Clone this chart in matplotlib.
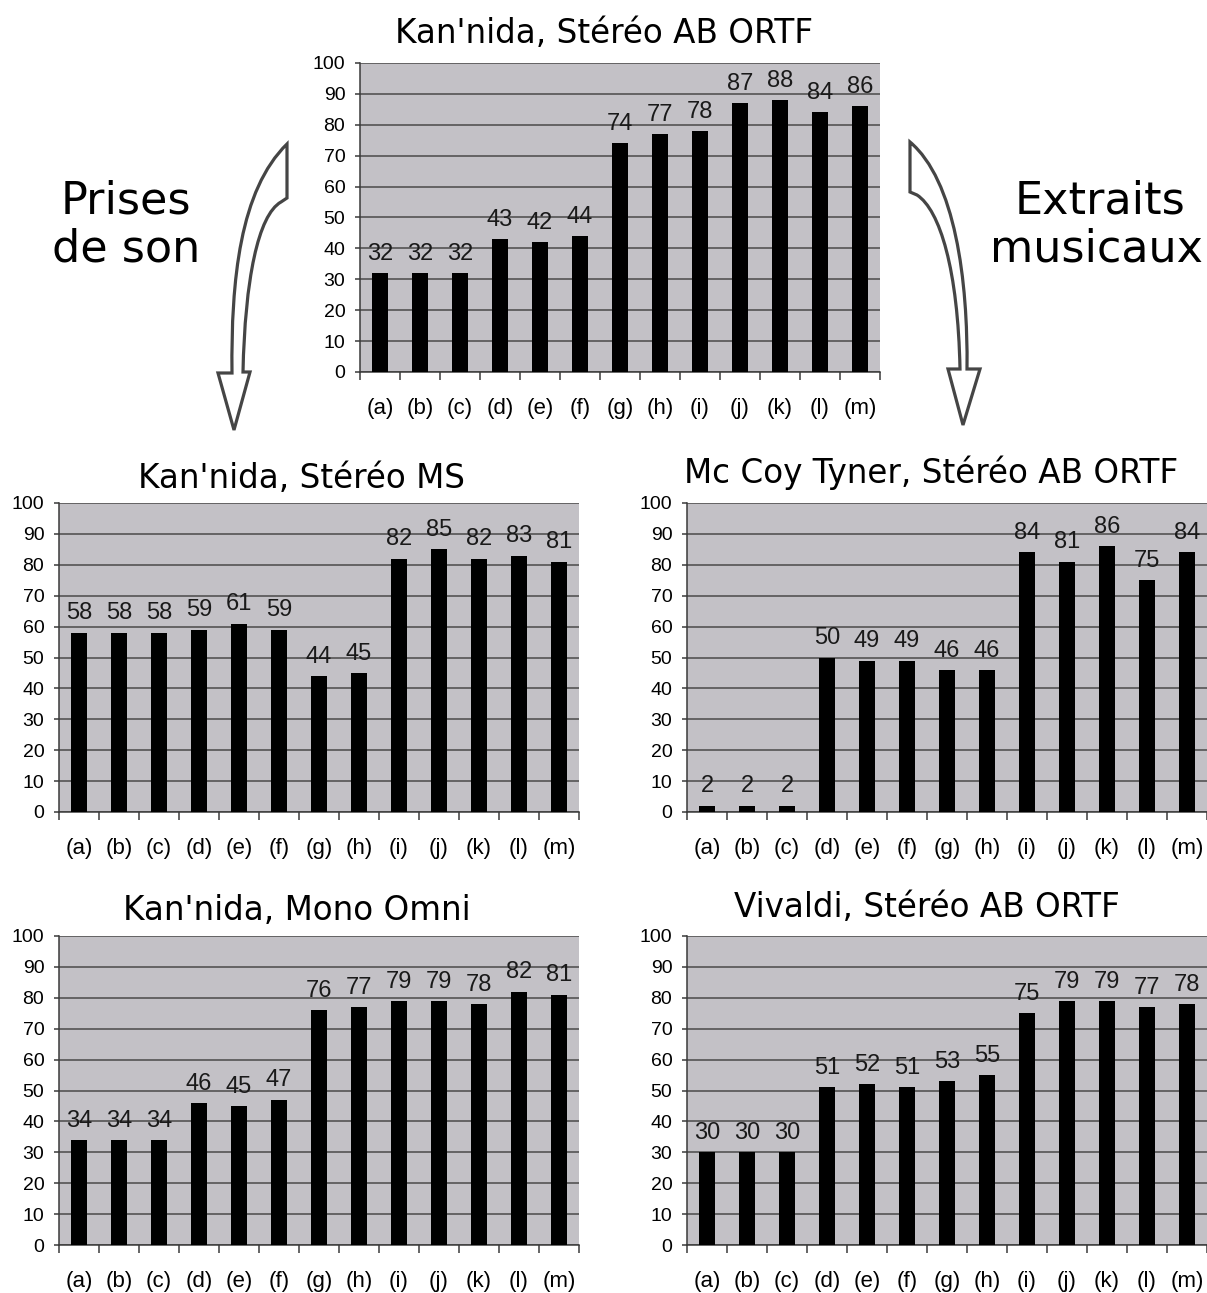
import numpy as np
import matplotlib
matplotlib.use("Agg")
import matplotlib.pyplot as plt
from matplotlib.path import Path
from matplotlib.patches import PathPatch

categories = ["(a)", "(b)", "(c)", "(d)", "(e)", "(f)", "(g)", "(h)", "(i)", "(j)", "(k)", "(l)", "(m)"]

top_title = "Kan'nida, Stéréo AB ORTF"
top_vals = [32, 32, 32, 43, 42, 44, 74, 77, 78, 87, 88, 84, 86]

ms_title = "Kan'nida, Stéréo MS"
ms_vals = [58, 58, 58, 59, 61, 59, 44, 45, 82, 85, 82, 83, 81]

mccoy_title = "Mc Coy Tyner, Stéréo AB ORTF"
mccoy_vals = [2, 2, 2, 50, 49, 49, 46, 46, 84, 81, 86, 75, 84]

mono_title = "Kan'nida, Mono Omni"
mono_vals = [34, 34, 34, 46, 45, 47, 76, 77, 79, 79, 78, 82, 81]

vivaldi_title = "Vivaldi, Stéréo AB ORTF"
vivaldi_vals = [30, 30, 30, 51, 52, 51, 53, 55, 75, 79, 79, 77, 78]

W, H = 1207, 1293
fig = plt.figure(figsize=(W / 100, H / 100), dpi=100)
fig.patch.set_facecolor("white")


def fx(x):
    return x / W


def fy(y):
    return 1 - y / H


BG = "#c3c1c6"
GRID = "#4a4a4a"
TICKFONT = "Liberation Sans"
TITLEFONT = "DejaVu Sans"


def make_axes(left_px, top_px):
    w_px, h_px = 520, 309
    ax = fig.add_axes([fx(left_px), fy(top_px + h_px), w_px / W, h_px / H])
    return ax


def draw(ax, vals):
    x = np.arange(len(categories))
    ax.set_facecolor(BG)
    ax.bar(x, vals, width=0.42, color="black", zorder=3)
    ax.set_xlim(-0.5, len(categories) - 0.5)
    ax.set_ylim(0, 100)
    ax.set_yticks(np.arange(0, 101, 10))
    ax.yaxis.grid(True, color=GRID, lw=1.1)
    ax.set_axisbelow(True)
    for s in ("top", "right"):
        ax.spines[s].set_visible(False)
    for s in ("left", "bottom"):
        ax.spines[s].set_color("#3a3a3a")
        ax.spines[s].set_linewidth(1.1)
    ax.set_xticks(x)
    ax.set_xticklabels(categories, fontfamily=TICKFONT, fontsize=16)
    ax.set_xticks(np.arange(-0.5, len(categories), 1), minor=True)
    ax.tick_params(axis="x", which="major", length=0, pad=19)
    ax.tick_params(axis="x", which="minor", length=6, width=1.1, color="#3a3a3a", direction="out")
    ax.tick_params(axis="y", length=3.6, width=1.1, color="#3a3a3a", pad=7)
    for lab in ax.get_yticklabels():
        lab.set_fontfamily(TICKFONT)
        lab.set_fontsize(14)
    for xi, v in zip(x, vals):
        ax.annotate(str(v), (xi, v), xytext=(0, 6), textcoords="offset points",
                    ha="center", va="bottom", fontsize=17, fontfamily=TICKFONT,
                    color="#1a1a1a", zorder=4)


ax_top = make_axes(360, 63)
draw(ax_top, top_vals)
ax_ms = make_axes(59, 503)
draw(ax_ms, ms_vals)
ax_mc = make_axes(687, 503)
draw(ax_mc, mccoy_vals)
ax_mono = make_axes(59, 936)
draw(ax_mono, mono_vals)
ax_viv = make_axes(687, 936)
draw(ax_viv, vivaldi_vals)

title_kw = dict(ha="center", va="baseline", fontsize=23.5, fontfamily=TITLEFONT, color="black")
fig.text(fx(604), fy(43), top_title, **title_kw)
fig.text(fx(301), fy(488), ms_title, **title_kw)
fig.text(fx(931), fy(483), mccoy_title, **title_kw)
fig.text(fx(297), fy(920), mono_title, **title_kw)
fig.text(fx(927), fy(917), vivaldi_title, **title_kw)

side_kw = dict(ha="center", va="baseline", fontsize=32, fontfamily=TITLEFONT, color="black")
fig.text(fx(126), fy(213), "Prises", **side_kw)
fig.text(fx(126), fy(262), "de son", **side_kw)
fig.text(fx(1100), fy(213), "Extraits", **side_kw)
fig.text(fx(1097), fy(262), "musicaux", **side_kw)


def arrow(verts_px, codes):
    verts = [(fx(a), fy(b)) for a, b in verts_px]
    p = Path(verts, codes)
    patch = PathPatch(p, transform=fig.transFigure, facecolor="white",
                      edgecolor="#454545", lw=2.3, joinstyle="miter")
    fig.patches.append(patch)


M, L, C, Z = Path.MOVETO, Path.LINETO, Path.CURVE4, Path.CLOSEPOLY

left_verts = [(287, 144), (287, 198), (281, 202),
              (258, 215), (245, 280), (243, 372),
              (250, 372), (234, 430), (218, 373), (232, 373),
              (231, 280), (240, 190), (287, 144),
              (287, 144)]
left_codes = [M, L, L, C, C, C, L, L, L, L, C, C, C, Z]
arrow(left_verts, left_codes)

right_verts = [(910, 142), (910, 192), (917, 195),
               (940, 210), (958, 270), (960, 369),
               (948, 369), (963, 425), (980, 369), (967, 369),
               (968, 280), (955, 180), (910, 142),
               (910, 142)]
right_codes = [M, L, L, C, C, C, L, L, L, L, C, C, C, Z]
arrow(right_verts, right_codes)

fig.savefig("out.png", dpi=100, facecolor="white")
